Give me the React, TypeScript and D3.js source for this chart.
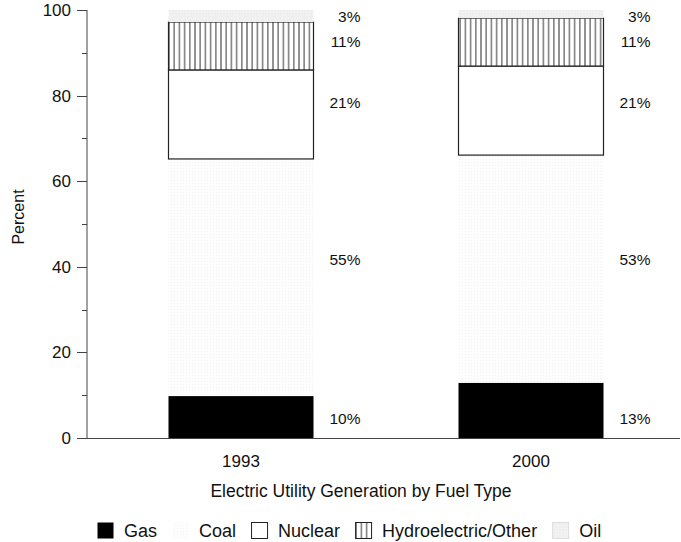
import * as d3 from 'd3'
import React, { useEffect, useRef } from 'react'

// Data
const years = ['1993', '2000']
const fuels = ['Gas', 'Coal', 'Nuclear', 'Hydroelectric/Other', 'Oil']
const gas = [9.8, 12.9]
const coal = [55.4, 53.2]
const nuclear = [20.8, 20.8]
const hydro = [11.2, 11.2]
const oil = [2.8, 1.9]
const shareLabels = [
  ['10%', '55%', '21%', '11%', '3%'],
  ['13%', '53%', '21%', '11%', '3%'],
]
const yTicks = [0, 20, 40, 60, 80, 100]

// label baselines, in percent units, one per fuel
const labelLevels = [3.3, 40.4, 77.1, 91.4, 97.2]

const FONT = '"Liberation Sans", Arial, Helvetica, sans-serif'

const App = () => {
  const svgRef = useRef<any>(null)

  useEffect(() => {
    if (!svgRef.current) return
    const svg = d3.select(svgRef.current)
    svg.selectAll('*').remove()

    const width = 681
    const height = 542
    const top = 10
    const bottom = 438
    const left = 87

    svg.attr('width', width).attr('height', height)

    // Fills
    const defs = svg.append('defs')
    const coalPat = defs.append('pattern')
      .attr('id', 'coal').attr('patternUnits', 'userSpaceOnUse')
      .attr('width', 3).attr('height', 3)
    coalPat.append('rect').attr('width', 3).attr('height', 3).attr('fill', '#fdfdfd')
    coalPat.append('rect').attr('width', 1).attr('height', 1).attr('fill', '#f4f4f4')

    const hydroPat = defs.append('pattern')
      .attr('id', 'hydro').attr('patternUnits', 'userSpaceOnUse')
      .attr('width', 5.2).attr('height', 10)
    hydroPat.append('rect').attr('width', 5.2).attr('height', 10).attr('fill', '#ffffff')
    hydroPat.append('rect').attr('x', 2).attr('width', 1.2).attr('height', 10).attr('fill', '#555555')

    const oilPat = defs.append('pattern')
      .attr('id', 'oil').attr('patternUnits', 'userSpaceOnUse')
      .attr('width', 3).attr('height', 3)
    oilPat.append('rect').attr('width', 3).attr('height', 3).attr('fill', '#efefef')
    oilPat.append('rect').attr('width', 1).attr('height', 1).attr('fill', '#f8f8f8')

    const fills = ['#000000', 'url(#coal)', '#ffffff', 'url(#hydro)', 'url(#oil)']
    const strokes = ['none', 'none', '#222222', '#222222', 'none']

    const x = d3.scaleBand().domain(years).range([96, 676])
      .paddingInner(0.5).paddingOuter(0.25)
    const y = d3.scaleLinear().domain([0, 100]).range([bottom, top])

    const table = years.map((yr, i) => ({
      year: yr,
      Gas: gas[i],
      Coal: coal[i],
      Nuclear: nuclear[i],
      'Hydroelectric/Other': hydro[i],
      Oil: oil[i],
    }))
    const stacked = d3.stack().keys(fuels)(table as any)

    // Stacked bars
    stacked.forEach((layer: any, k: number) => {
      svg.append('g')
        .selectAll('rect')
        .data(layer)
        .enter()
        .append('rect')
        .attr('x', (d: any) => x(d.data.year) as number)
        .attr('width', x.bandwidth())
        .attr('y', (d: any) => y(d[1]))
        .attr('height', (d: any) => y(d[0]) - y(d[1]))
        .attr('fill', fills[k])
        .attr('stroke', strokes[k])
        .attr('stroke-width', 1.2)
    })

    // Share labels
    years.forEach((yr, i) => {
      const xr = (x(yr) as number) + x.bandwidth() + 47
      svg.append('g')
        .selectAll('text')
        .data(shareLabels[i])
        .enter()
        .append('text')
        .attr('x', xr)
        .attr('y', (d, k) => y(labelLevels[k]))
        .attr('text-anchor', 'end')
        .attr('font-family', FONT)
        .attr('font-size', 15.5)
        .attr('fill', '#111')
        .text((d) => d)
    })

    // Y axis
    const axisColor = '#444'
    svg.append('line')
      .attr('x1', left).attr('x2', left)
      .attr('y1', top).attr('y2', bottom)
      .attr('stroke', axisColor)
    svg.append('line')
      .attr('x1', left).attr('x2', 680)
      .attr('y1', bottom + 0.5).attr('y2', bottom + 0.5)
      .attr('stroke', axisColor)

    svg.append('g')
      .selectAll('line')
      .data(d3.range(0, 101, 10))
      .enter()
      .append('line')
      .attr('x1', (d) => (d % 20 === 0 ? left - 10 : left - 5))
      .attr('x2', left)
      .attr('y1', (d) => Math.round(y(d)) + 0.5)
      .attr('y2', (d) => Math.round(y(d)) + 0.5)
      .attr('stroke', axisColor)

    svg.append('g')
      .selectAll('text')
      .data(yTicks)
      .enter()
      .append('text')
      .attr('x', left - 16)
      .attr('y', (d) => y(d) + 6)
      .attr('text-anchor', 'end')
      .attr('font-family', FONT)
      .attr('font-size', 17)
      .attr('fill', '#111')
      .text((d) => d)

    // X labels
    svg.append('g')
      .selectAll('text')
      .data(years)
      .enter()
      .append('text')
      .attr('x', (d) => (x(d) as number) + x.bandwidth() / 2)
      .attr('y', 467)
      .attr('text-anchor', 'middle')
      .attr('font-family', FONT)
      .attr('font-size', 17)
      .attr('fill', '#111')
      .text((d) => d)

    // Axis titles
    svg.append('text')
      .attr('transform', 'translate(24, 217) rotate(-90)')
      .attr('text-anchor', 'middle')
      .attr('font-family', FONT)
      .attr('font-size', 16)
      .attr('fill', '#111')
      .text('Percent')

    svg.append('text')
      .attr('x', 361)
      .attr('y', 497)
      .attr('text-anchor', 'middle')
      .attr('font-family', FONT)
      .attr('font-size', 17.5)
      .attr('fill', '#111')
      .text('Electric Utility Generation by Fuel Type')

    // Legend, laid out by measured text width
    const legend = svg.append('g')
    let cursor = 97
    const legendStrokes = ['none', 'none', '#222222', '#222222', '#dddddd']
    fuels.forEach((f, k) => {
      legend.append('rect')
        .attr('x', cursor + 0.5).attr('y', 522.5)
        .attr('width', 16).attr('height', 16)
        .attr('fill', fills[k])
        .attr('stroke', legendStrokes[k])
      const t = legend.append('text')
        .attr('x', cursor + 27)
        .attr('y', 537)
        .attr('font-family', FONT)
        .attr('font-size', 18)
        .attr('fill', '#111')
        .text(f)
      const w = (t.node() as any).getComputedTextLength()
      cursor = cursor + 27 + w + 15
    })
  }, [])

  return (
    <svg ref={svgRef} style={{ position: 'absolute', left: 0, top: 0 }}></svg>
  )
}

export default App
